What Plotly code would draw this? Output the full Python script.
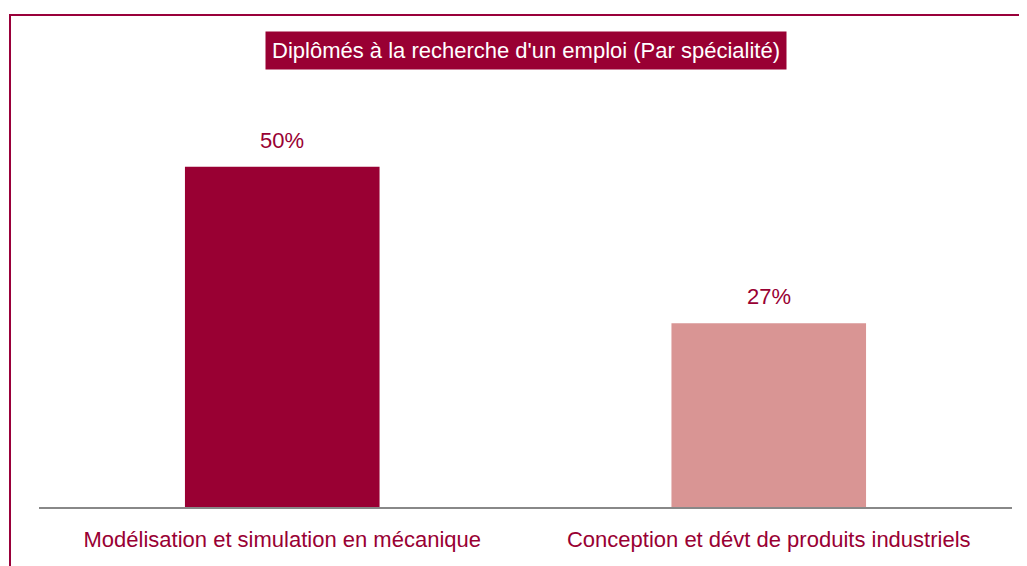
import plotly.graph_objects as go

specialites = ['Modélisation et simulation en mécanique', 'Conception et dévt de produits industriels']
pourcentages = [50, 27]
couleurs = ['#990033', '#D99594']
titre = "Diplômés à la recherche d'un emploi (Par spécialité)"

police = 'Liberation Sans, Arial, sans-serif'
bordeaux = '#990033'

fig = go.Figure(go.Bar(
    x=specialites,
    y=pourcentages,
    marker=dict(color=couleurs, line=dict(width=0)),
    hoverinfo='x+y',
))

# étiquettes de valeur au-dessus des barres
for cat, val in zip(specialites, pourcentages):
    fig.add_annotation(x=cat, y=val, text=f'{val}%', showarrow=False,
                       yanchor='bottom', yshift=12,
                       font=dict(color=bordeaux, size=22, family=police))

# cadre bordeaux autour du graphique
fig.add_shape(type='rect', xref='paper', yref='paper',
              x0=-0.0298, x1=1.2, y0=-0.3, y1=1.1007,
              line=dict(color='#99003A', width=2), layer='above')

fig.add_annotation(text=titre, xref='paper', yref='paper', x=0.5, y=1.022,
                   xanchor='center', yanchor='middle', showarrow=False,
                   font=dict(color='white', size=22, family=police),
                   bgcolor=bordeaux, borderpad=6)

# la page ajoute ~8 px de marge autour de la figure
fig.update_layout(
    width=1019, height=558,
    margin=dict(l=31, r=15, t=52, b=59, autoexpand=False),
    paper_bgcolor='white',
    plot_bgcolor='white',
    font=dict(family=police, color=bordeaux),
    bargap=0.6,
    showlegend=False,
)
fig.update_xaxes(showline=True, linecolor='#888888', linewidth=2,
                 tickfont=dict(size=22, color=bordeaux, family=police), ticks='',
                 ticklabelstandoff=12, automargin=False)
fig.update_yaxes(visible=False, range=[0, 65.7], showgrid=False, automargin=False)

fig.write_html('out.html')
